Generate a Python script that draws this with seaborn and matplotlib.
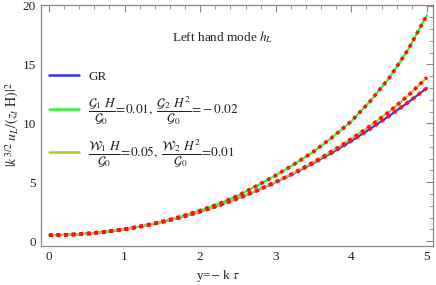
import numpy as np
import pandas as pd
import matplotlib
matplotlib.use("Agg")
import matplotlib.pyplot as plt
import seaborn as sns
from matplotlib.lines import Line2D
from matplotlib.ticker import MultipleLocator

# ---- data ----
y_vals = [0.0, 0.25, 0.5, 0.75, 1.0, 1.25, 1.5, 1.75, 2.0, 2.25, 2.5,
          2.75, 3.0, 3.25, 3.5, 3.75, 4.0, 4.25, 4.5, 4.75, 5.0]
gr_vals = [0.5, 0.531, 0.625, 0.781, 1.0, 1.281, 1.625, 2.031, 2.5, 3.031, 3.625,
           4.281, 5.0, 5.781, 6.625, 7.531, 8.5, 9.531, 10.625, 11.781, 13.0]
g_vals = [0.5, 0.53, 0.63, 0.79, 1.01, 1.30, 1.66, 2.09, 2.60, 3.17, 3.86,
          4.70, 5.58, 6.55, 7.60, 8.82, 10.18, 11.88, 13.85, 16.25, 19.2]
w_vals = [0.5, 0.531, 0.625, 0.781, 1.0, 1.281, 1.625, 2.031, 2.5, 3.031, 3.63,
          4.29, 5.02, 5.82, 6.70, 7.65, 8.68, 9.78, 10.98, 12.35, 13.9]

labels = ["GR",
          r"$\dfrac{\mathcal{G}_1\ H}{\mathcal{G}_0}\!=\!0.01,\ \dfrac{\mathcal{G}_2\ H^2}{\mathcal{G}_0}\!=\!-0.02$",
          r"$\dfrac{\mathcal{W}_1\ H}{\mathcal{G}_0}\!=\!0.05,\ \dfrac{\mathcal{W}_2\ H^2}{\mathcal{G}_0}\!=\!0.01$"]
colors = ["#3030ff", "#20ff20", "#bdbd40"]
series = [gr_vals, g_vals, w_vals]

sns.set_theme(style="white")
plt.rcParams["font.family"] = ["Liberation Serif", "DejaVu Serif"]
plt.rcParams["mathtext.fontset"] = "stix"

fig = plt.figure(figsize=(4.36, 2.85), dpi=100)
ax = fig.add_axes([41 / 436, 1 - 246 / 285, (433 - 41) / 436, (246 - 5) / 285])

for vals, col in zip(series, colors):
    df = pd.DataFrame({"y": y_vals, "v": vals})
    sns.lineplot(data=df, x="y", y="v", ax=ax, color=col, lw=1.5, label=None)

for vals in series:
    df = pd.DataFrame({"y": y_vals, "v": vals})
    sns.lineplot(data=df, x="y", y="v", ax=ax, color="#ff1010", lw=2.6,
                 label=None)
    ax.lines[-1].set_linestyle((0, (1.0, 1.1)))

ax.set_xlim(-0.106, 5.08)
ax.set_ylim(-0.42, 20.05)
ax.xaxis.set_major_locator(MultipleLocator(1))
ax.xaxis.set_minor_locator(MultipleLocator(0.2))
ax.yaxis.set_major_locator(MultipleLocator(5))
ax.yaxis.set_minor_locator(MultipleLocator(1))
ax.tick_params(which="both", direction="in", top=True, right=True,
               color="#888888", labelsize=9.5, labelcolor="#222222")
ax.tick_params(which="major", length=5, width=0.8)
ax.tick_params(which="minor", length=2.8, width=0.6)
for s in ax.spines.values():
    s.set_color("#888888")
    s.set_linewidth(0.9)

ax.set_xlabel("")
ax.set_ylabel("")
fig.text(218 / 436, 1 - 276 / 285, "y=$-$ k $\\tau$", ha="center", va="center",
         fontsize=9.5, color="#222222")
fig.text(13 / 436, 1 - 125 / 285, r"$|k^{3/2}\ u_L/(z_t\ \mathrm{H})|^2$",
         rotation=90, ha="center", va="center", fontsize=10, color="#222222")
ax.text(2.29, 17.3, r"Left hand mode $h_L$", ha="center", va="center",
        fontsize=9.5, color="#222222")

handles = [Line2D([], [], color=c, lw=1.8) for c in colors]
leg = ax.legend(handles, labels, loc="upper left", bbox_to_anchor=(0.0, 0.76),
                frameon=False, fontsize=9.5, handlelength=2.3, handletextpad=0.7,
                labelspacing=0.85, borderaxespad=0.2)
for t in leg.get_texts():
    t.set_color("#222222")

fig.savefig("out.png", dpi=100)
